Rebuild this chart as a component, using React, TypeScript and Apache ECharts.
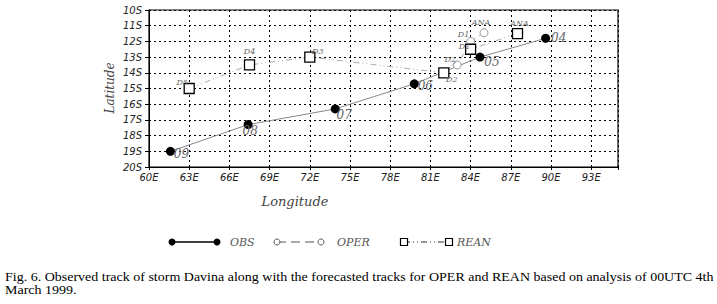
import React, { useEffect, useRef } from "react";
import * as echarts from "echarts";

// ---- data ----
const obsLon = [61.6, 67.4, 73.9, 79.8, 84.7, 89.6];
const obsLat = [19.0, 17.3, 16.3, 14.7, 13.0, 11.8];
const obsTags = ["09", "08", "07", "06", "05", "04"];

const operLon = [85.0, 84.0, 83.0];
const operLat = [11.45, 12.0, 13.5];
const operTags = ["ANA", "D1", "D2"];

const reanLon = [87.5, 84.0, 82.0, 72.0, 67.5, 63.0];
const reanLat = [11.5, 12.5, 14.0, 13.0, 13.5, 15.0];
const reanTags = ["ANA", "D1", "D2", "D3", "D4", "D5"];

const lonTicks = { min: 60, max: 95, step: 3 };
const latTicks = { min: 10, max: 20, step: 1 };

const seriesNames = ["OBS", "OPER", "REAN"];
const captionLines = [
  "Fig. 6. Observed track of storm Davina along with the forecasted tracks for OPER and REAN based on analysis of 00UTC 4th",
  "March 1999.",
];

// ---- layout (label offsets in px, not data) ----
const obsOffsets = [[11, 3], [2, 6], [9, 6], [11, 2], [12, 5], [13, 0]];
const operOffsets = [[-3, -10], [-7, -7], [-7, -5]];
const reanOffsets = [[2, -10], [-6, -3], [8, 7], [8, -6], [0, -13], [-7, -6]];

const tagFont = "'DejaVu Serif', serif";

function build(lon: number[], lat: number[], tags: string[], offs: number[][], size: number) {
  return lon.map((x, i) => ({
    value: [x, lat[i]],
    label: {
      show: true,
      formatter: tags[i],
      position: "inside",
      offset: offs[i],
      fontSize: size,
      fontStyle: "italic",
      fontFamily: tagFont,
      color: "#666",
    },
  }));
}

export default function App() {
  const ref = useRef<HTMLDivElement>(null);
  useEffect(() => {
    if (!ref.current) return;
    const chart = echarts.init(ref.current, null, { renderer: "svg" });
    const legY = 242;
    const capFont = "12.5px 'Liberation Serif', 'Times New Roman', serif";
    const option: any = {
      animation: false,
      backgroundColor: "#fff",
      grid: {
        left: 149,
        right: 99,
        top: 10,
        bottom: 137,
        show: true,
        borderColor: "#000",
        borderWidth: 1.2,
      },
      xAxis: {
        type: "value",
        min: lonTicks.min,
        max: lonTicks.max,
        interval: lonTicks.step,
        axisLine: { show: true, lineStyle: { color: "#000" } },
        axisTick: { show: true, length: 3, lineStyle: { color: "#000" } },
        axisLabel: {
          formatter: (v: number) => (v === lonTicks.max ? "" : v + "E"),
          fontSize: 10,
          fontStyle: "italic",
          fontFamily: "'DejaVu Sans', sans-serif",
          color: "#222",
          margin: 5,
        },
        splitLine: { show: true, lineStyle: { color: "#000", type: [2, 3], width: 1 } },
      },
      yAxis: {
        type: "value",
        min: latTicks.min,
        max: latTicks.max,
        interval: latTicks.step,
        inverse: true,
        axisLine: { show: true, lineStyle: { color: "#000" } },
        axisTick: { show: true, length: 4, lineStyle: { color: "#000" } },
        axisLabel: {
          formatter: (v: number) => v + "S",
          fontSize: 10,
          fontStyle: "italic",
          fontFamily: "'DejaVu Sans', sans-serif",
          color: "#222",
          margin: 7,
        },
        splitLine: { show: true, lineStyle: { color: "#000", type: [2, 3], width: 1 } },
      },
      series: [
        {
          name: seriesNames[0],
          type: "line",
          data: build(obsLon, obsLat, obsTags, obsOffsets, 12),
          symbol: "circle",
          symbolSize: 9,
          itemStyle: { color: "#000" },
          lineStyle: { color: "#888", width: 1 },
          z: 3,
        },
        {
          name: seriesNames[1],
          type: "line",
          data: build(operLon, operLat, operTags, operOffsets, 8),
          symbol: "circle",
          symbolSize: 8,
          itemStyle: { color: "#fff", borderColor: "#999", borderWidth: 1 },
          lineStyle: { color: "#aaa", width: 1, type: [6, 4] },
          z: 4,
        },
        {
          name: seriesNames[2],
          type: "line",
          data: build(reanLon, reanLat, reanTags, reanOffsets, 8),
          symbol: "rect",
          symbolSize: 10,
          itemStyle: { color: "#fff", borderColor: "#000", borderWidth: 1.3 },
          lineStyle: { color: "#aaa", width: 1, type: [6, 3, 1, 3, 1, 3] },
          z: 5,
        },
      ],
      graphic: [
        {
          type: "text",
          x: 110,
          y: 88,
          rotation: Math.PI / 2,
          style: {
            text: "Latitude",
            font: "italic 12px 'DejaVu Serif', serif",
            fill: "#444",
            align: "center",
            verticalAlign: "middle",
          },
        },
        {
          type: "text",
          x: 295,
          y: 201,
          style: {
            text: "Longitude",
            font: "italic 13px 'DejaVu Serif', serif",
            fill: "#444",
            align: "center",
            verticalAlign: "middle",
          },
        },
        // legend: OBS
        { type: "line", shape: { x1: 172, y1: legY, x2: 217, y2: legY }, style: { stroke: "#000", lineWidth: 1.3 } },
        { type: "circle", shape: { cx: 172, cy: legY, r: 3.5 }, style: { fill: "#000" } },
        { type: "circle", shape: { cx: 217, cy: legY, r: 3.5 }, style: { fill: "#000" } },
        {
          type: "text", x: 230, y: legY,
          style: { text: seriesNames[0], font: "italic 11px 'DejaVu Serif', serif", fill: "#555", verticalAlign: "middle" },
        },
        // legend: OPER
        { type: "line", shape: { x1: 277, y1: legY, x2: 321, y2: legY }, style: { stroke: "#555", lineWidth: 1, lineDash: [9, 5] } },
        { type: "circle", shape: { cx: 277, cy: legY, r: 3 }, style: { fill: "#fff", stroke: "#555", lineWidth: 1 } },
        { type: "circle", shape: { cx: 321, cy: legY, r: 3 }, style: { fill: "#fff", stroke: "#555", lineWidth: 1 } },
        {
          type: "text", x: 337, y: legY,
          style: { text: seriesNames[1], font: "italic 11px 'DejaVu Serif', serif", fill: "#555", verticalAlign: "middle" },
        },
        // legend: REAN
        { type: "line", shape: { x1: 404, y1: legY, x2: 449, y2: legY }, style: { stroke: "#333", lineWidth: 1, lineDash: [6, 3, 1, 3, 1, 3] } },
        { type: "rect", shape: { x: 400.5, y: legY - 3.5, width: 7, height: 7 }, style: { fill: "#fff", stroke: "#000", lineWidth: 1.2 } },
        { type: "rect", shape: { x: 445.5, y: legY - 3.5, width: 7, height: 7 }, style: { fill: "#fff", stroke: "#000", lineWidth: 1.2 } },
        {
          type: "text", x: 457, y: legY,
          style: { text: seriesNames[2], font: "italic 11px 'DejaVu Serif', serif", fill: "#555", verticalAlign: "middle" },
        },
        // caption
        {
          type: "text", x: 5, y: 277, scaleX: 1.12,
          style: { text: captionLines[0], font: capFont, fill: "#000", verticalAlign: "middle" },
        },
        {
          type: "text", x: 5, y: 290, scaleX: 1.12,
          style: { text: captionLines[1], font: capFont, fill: "#000", verticalAlign: "middle" },
        },
      ],
    };
    chart.setOption(option);
    return () => chart.dispose();
  }, []);
  return (
    <div
      ref={ref}
      style={{ position: "fixed", left: 0, top: 0, width: 717, height: 304, background: "#fff" }}
    />
  );
}
